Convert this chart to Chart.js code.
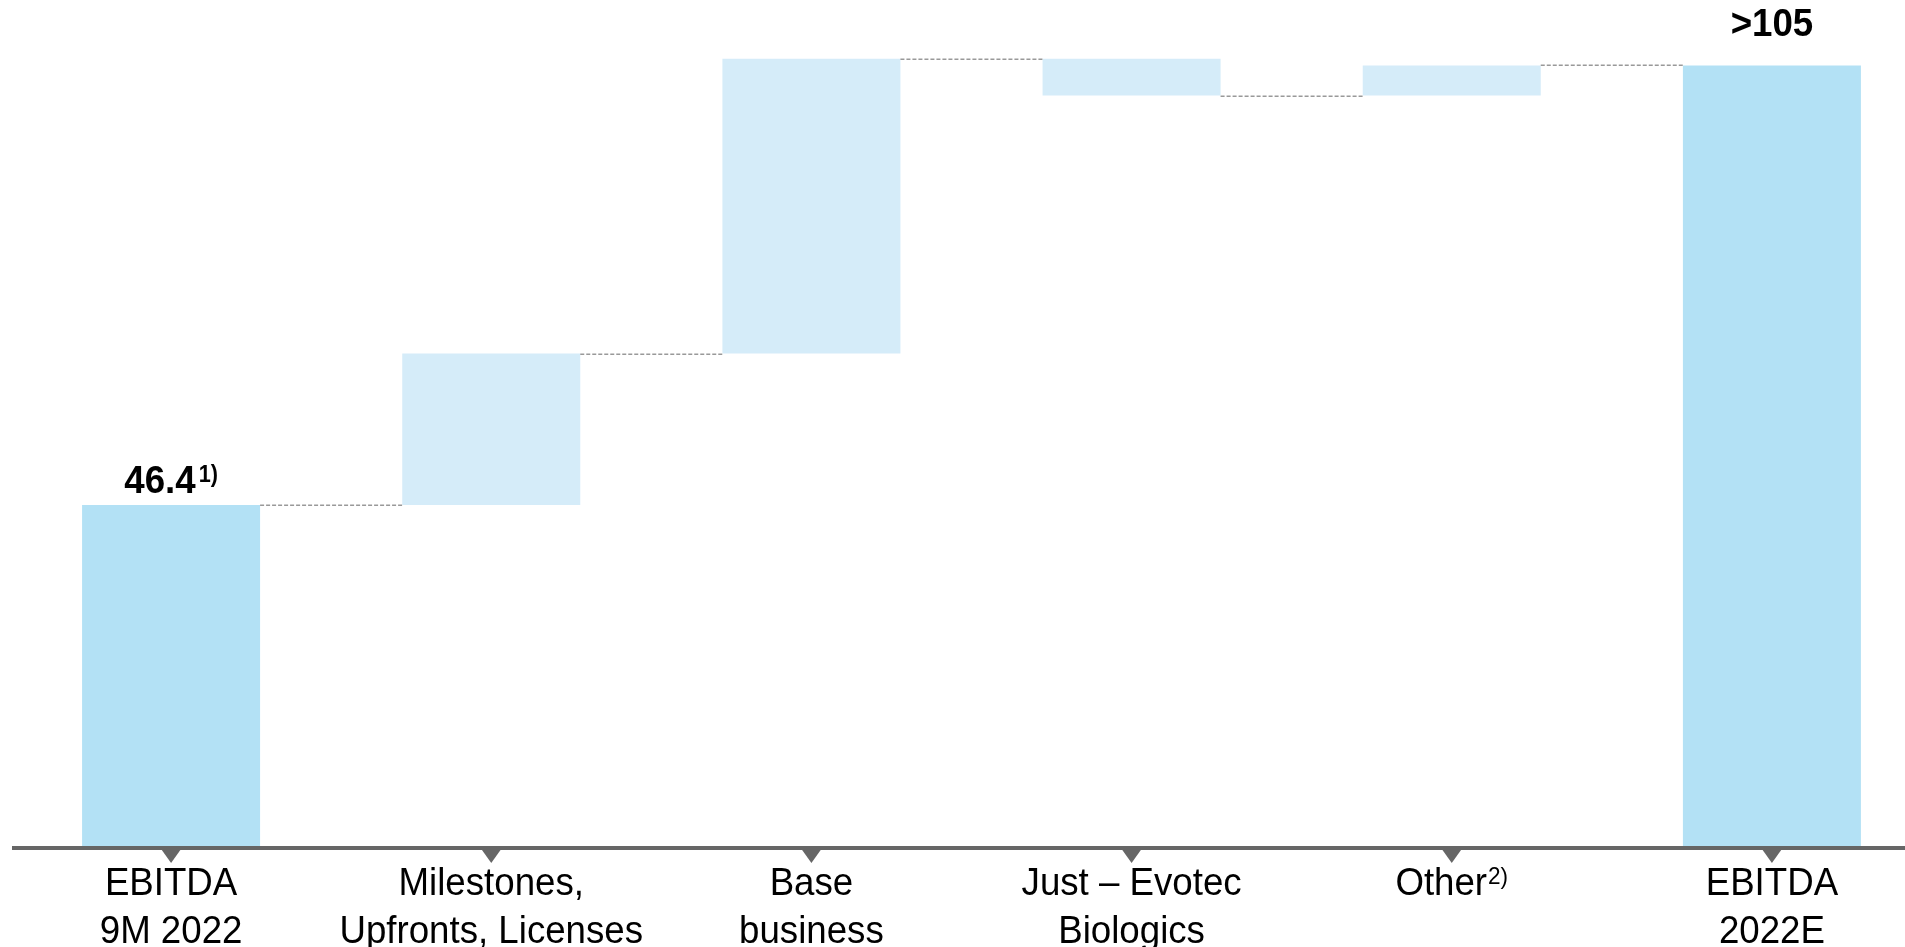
<!DOCTYPE html>
<html>
<head>
<meta charset="utf-8">
<script src="https://cdn.jsdelivr.net/npm/chart.js@4/dist/chart.umd.min.js"></script>
<style>
  html, body { margin: 0; padding: 0; background: #ffffff; overflow: hidden; }
  #wrap { position: absolute; left: 0; top: 0; width: 1934px; height: 947px; }
</style>
</head>
<body>
<div id="wrap"><canvas id="chart" width="1934" height="947"></canvas></div>
<script>
// EBITDA bridge, 9M 2022 to full-year 2022E (EUR m)
const categories = [
  ["EBITDA", "9M 2022"],
  ["Milestones,", "Upfronts, Licenses"],
  ["Base", "business"],
  ["Just \u2013 Evotec", "Biologics"],
  ["Other"],
  ["EBITDA", "2022E"]
];
const categoryNotes = ["", "", "", "", "2)", ""];
const totals = [46.4, null, null, null, null, 106.2];
const changes = [null, 20.6, 40.1, -5.0, 4.1, null];
const valueLabels = ["46.4", "", "", "", "", ">105"];
const valueNotes = ["1)", "", "", "", "", ""];

// floating ranges for every bar and the running level after it
const ranges = [];
const levels = [];
let running = 0;
categories.forEach((c, i) => {
  if (totals[i] !== null) {
    ranges.push([0, totals[i]]);
    running = totals[i];
  } else {
    ranges.push([running, running + changes[i]]);
    running += changes[i];
  }
  levels.push(running);
});

const TOTAL_COLOR = "#b3e1f5";
const STEP_COLOR = "#d5ecf9";
const FONT = "'Liberation Sans', Arial, Helvetica, sans-serif";
const NARROW = 0.94; // slightly condensed lettering

function textWidth(ctx, text, font) {
  ctx.font = font;
  return ctx.measureText(text).width * NARROW;
}
function drawText(ctx, text, x, y, font) {
  ctx.save();
  ctx.font = font;
  ctx.translate(x, y);
  ctx.scale(NARROW, 1);
  ctx.fillText(text, 0, 0);
  ctx.restore();
}
// main text followed by a raised note, centred as one unit on cx
function drawNoted(ctx, text, note, cx, baseline, mainFont, noteFont, gap, raise) {
  const w1 = textWidth(ctx, text, mainFont);
  const w2 = note ? textWidth(ctx, note, noteFont) + gap : 0;
  const start = cx - (w1 + w2) / 2;
  drawText(ctx, text, start, baseline, mainFont);
  if (note) drawText(ctx, note, start + w1 + gap, baseline - raise, noteFont);
}

const bridgeDecor = {
  id: "bridgeDecor",
  afterDatasetsDraw(chart) {
    const { ctx, scales: { y } } = chart;
    const bars = chart.getDatasetMeta(0).data;
    const base = y.getPixelForValue(0);

    ctx.save();
    // dashed connectors between consecutive bars
    ctx.setLineDash([4, 2]);
    ctx.strokeStyle = "#999999";
    ctx.lineWidth = 1.5;
    for (let i = 0; i < bars.length - 1; i++) {
      const yy = Math.round(y.getPixelForValue(levels[i])) + 0.25;
      const x1 = bars[i].x + bars[i].width / 2;
      const x2 = bars[i + 1].x - bars[i + 1].width / 2;
      ctx.beginPath();
      ctx.moveTo(x1, yy);
      ctx.lineTo(x2, yy);
      ctx.stroke();
    }
    ctx.setLineDash([]);

    // baseline with a small pointer under each category
    ctx.fillStyle = "#666666";
    ctx.fillRect(12, base, chart.width, 4);
    bars.forEach((b) => {
      ctx.beginPath();
      ctx.moveTo(b.x - 10, base + 3);
      ctx.lineTo(b.x + 10, base + 3);
      ctx.lineTo(b.x, base + 17);
      ctx.closePath();
      ctx.fill();
    });

    // value labels above the total bars
    ctx.fillStyle = "#000000";
    ctx.textBaseline = "alphabetic";
    ctx.textAlign = "left";
    bars.forEach((b, i) => {
      if (!valueLabels[i]) return;
      const top = y.getPixelForValue(ranges[i][1]);
      const gap = i === bars.length - 1 ? 29 : 12;
      drawNoted(ctx, valueLabels[i], valueNotes[i], b.x, top - gap,
        "bold 39px " + FONT, "bold 23px " + FONT, 3, 11);
    });

    // category labels under the axis
    bars.forEach((b, i) => {
      const lines = categories[i];
      lines.forEach((line, k) => {
        const note = k === lines.length - 1 ? categoryNotes[i] : "";
        drawNoted(ctx, line, note, b.x, 895 + k * 48,
          "39px " + FONT, "24px " + FONT, 1, 11);
      });
    });
    ctx.restore();
  }
};

new Chart(document.getElementById("chart"), {
  type: "bar",
  data: {
    labels: categories.map((c) => c.join(" ")),
    datasets: [{
      data: ranges,
      backgroundColor: categories.map((c, i) => totals[i] !== null ? TOTAL_COLOR : STEP_COLOR),
      borderWidth: 0,
      borderSkipped: false,
      barPercentage: 0.556,
      categoryPercentage: 1.0
    }]
  },
  options: {
    responsive: false,
    animation: false,
    devicePixelRatio: 1,
    layout: { padding: { left: 11, right: 2, top: 0, bottom: 101 } },
    plugins: {
      legend: { display: false },
      tooltip: { enabled: false }
    },
    scales: {
      x: { display: false },
      y: { display: false, min: 0, max: 115.1 }
    }
  },
  plugins: [bridgeDecor]
});
</script>
</body>
</html>
